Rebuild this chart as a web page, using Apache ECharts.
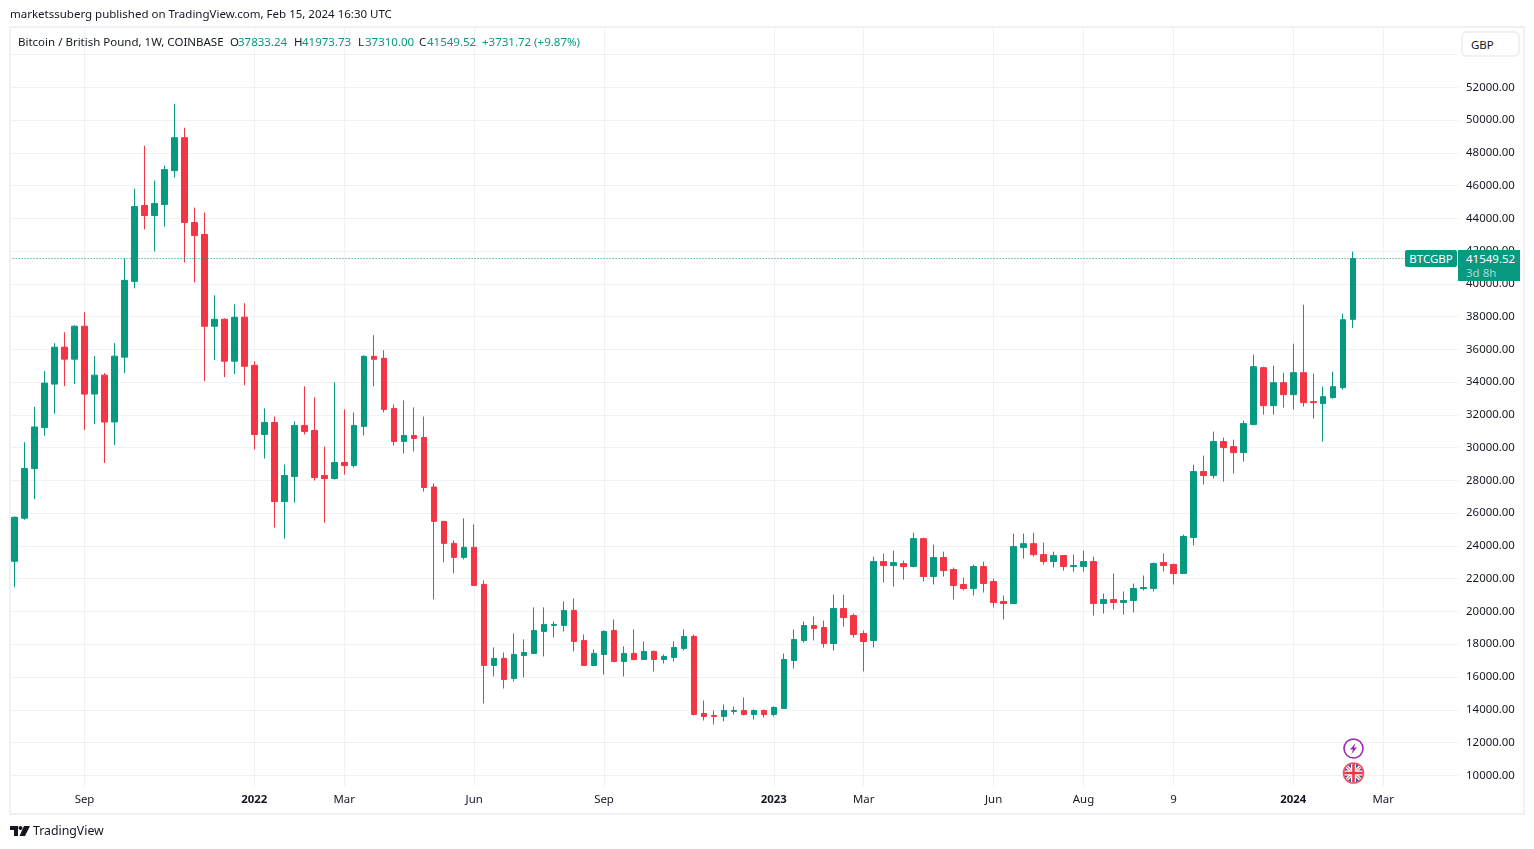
<!DOCTYPE html>
<html>
<head>
<meta charset="utf-8">
<title>BTCGBP</title>
<script src="https://cdn.jsdelivr.net/npm/echarts@6/dist/echarts.min.js"></script>
<style>
  html, body { margin: 0; padding: 0; width: 1534px; height: 849px; background: #fff; overflow: hidden; }
  body { font-family: "Noto Sans", sans-serif; color: #131722; font-size: 11.5px; }
  #chart { position: absolute; left: 0; top: 0; width: 1534px; height: 849px; }
  .abs { position: absolute; white-space: nowrap; line-height: 16px; }
  .frame { position: absolute; left: 9px; top: 26px; width: 1516px; height: 789px; box-sizing: border-box; border: 2px solid #f0f1f6; pointer-events: none; }
  .up { color: #089981; }
  .currency { position: absolute; left: 1461px; top: 31px; width: 59px; height: 26px; box-sizing: border-box; border: 2px solid #f0f1f6; border-radius: 5px; background: #fff; line-height: 23px; text-indent: 8px; }
  .tag { position: absolute; background: #089981; color: #fff; }
  .tag-name { left: 1405px; top: 250px; width: 52px; height: 17px; line-height: 17px; text-align: center; border-radius: 2px; }
  .tag-price { left: 1458px; top: 250px; width: 62px; height: 31px; line-height: 14px; padding: 2px 0 0 8px; box-sizing: border-box; }
  .tag-price span { display: block; color: #a5dbd0; }
  .logo-text { font-size: 12.3px; }
</style>
</head>
<body>
<div id="chart"></div>
<div class="frame"></div>

<div class="abs" style="left:10px;top:6px">marketssuberg published on TradingView.com, Feb 15, 2024 16:30 UTC</div>

<div class="abs" style="left:18px;top:34px">Bitcoin / British Pound, 1W, COINBASE</div>
<div class="abs" style="left:230px;top:34px">O</div><div class="abs up" style="left:238px;top:34px">37833.24</div>
<div class="abs" style="left:294px;top:34px">H</div><div class="abs up" style="left:302px;top:34px">41973.73</div>
<div class="abs" style="left:358px;top:34px">L</div><div class="abs up" style="left:365px;top:34px">37310.00</div>
<div class="abs" style="left:419px;top:34px">C</div><div class="abs up" style="left:427px;top:34px">41549.52</div>
<div class="abs up" style="left:482px;top:34px">+3731.72 (+9.87%)</div>

<div class="currency">GBP</div>
<div class="tag tag-name">BTCGBP</div>
<div class="tag tag-price">41549.52<span>3d 8h</span></div>

<svg class="abs" style="left:1342px;top:737px" width="23" height="48" viewBox="0 0 23 48">
  <circle cx="11.5" cy="11.5" r="9.5" fill="#fff" stroke="#9c27b0" stroke-width="1.6"/>
  <path d="M13.5 6 L8 12.5 H11 L9.5 17 L15 10.5 H12 Z" fill="#9c27b0"/>
  <clipPath id="flagClip"><circle cx="11.5" cy="36" r="9.5"/></clipPath>
  <g clip-path="url(#flagClip)">
    <rect x="1" y="25" width="21" height="22" fill="#2a5caa"/>
    <path d="M1 26 L22 46 M22 26 L1 46" stroke="#fff" stroke-width="3.4"/>
    <path d="M1 26 L22 46 M22 26 L1 46" stroke="#f23645" stroke-width="1"/>
    <path d="M11.5 25 V47 M1 36 H22" stroke="#fff" stroke-width="5"/>
    <path d="M11.5 25 V47 M1 36 H22" stroke="#f23645" stroke-width="2.6"/>
  </g>
  <circle cx="11.5" cy="36" r="10" fill="none" stroke="#f7525f" stroke-width="1.6"/>
</svg>

<svg class="abs" style="left:10px;top:826px" width="20" height="11" viewBox="0 0 20 11">
  <path d="M0 0 H8 V10 H4 V4 H0 Z" fill="#131722"/>
  <circle cx="10.5" cy="2" r="2" fill="#131722"/>
  <path d="M14 0 H20 L15 10 H9.5 Z" fill="#131722"/>
</svg>
<div class="abs logo-text" style="left:33px;top:823px">TradingView</div>

<script>
// 周线 OHLC，从图上读出来的
const opens = [
  23065, 25690, 28725, 31222, 33881, 36135, 35404, 37414, 33272, 34429,
  31567, 35526, 40154, 44782, 44174, 44843, 46914, 48924, 43747, 43016,
  37414, 37840, 35282, 37964, 35028, 30807, 31541, 26709, 28238, 31358,
  31052, 28299, 28116, 29094, 28911, 31297, 35578, 35456, 32397, 30379,
  30746, 30624, 27600, 25501, 24157, 23302, 23913, 21653, 16705, 17133,
  15911, 17316, 17439, 18782, 19150, 19149, 20065, 18232, 16705, 17377,
  18843, 16950, 17439, 17072, 17561, 17072, 17194, 17744, 18477, 13774,
  13652, 13591, 13900, 13957, 13713, 13957, 13713, 14079, 17006, 18226,
  19141, 19019, 18043, 20178, 19751, 18653, 18226, 23044, 22800, 22922,
  22742, 24447, 22133, 23290, 22559, 21645, 21402, 22742, 21828, 20610,
  20488, 23899, 24142, 23472, 23046, 23411, 22742, 22742, 23046, 20488,
  20732, 20549, 20671, 21402, 21405, 22991, 22869, 22320, 24516, 28541,
  28297, 30371, 30066, 29700, 31408, 34884, 32566, 33970, 33237, 34579,
  32811, 32689, 33054, 33664, 37833.24
]
const closes = [
  25751, 28725, 31263, 33942, 36135, 35404, 37414, 33272, 34429, 31567,
  35587, 40215, 44722, 44174, 44904, 46975, 48924, 43747, 42955, 37414,
  37840, 35282, 37962, 34967, 30807, 31541, 26709, 28299, 31358, 30991,
  28177, 28116, 29094, 28911, 31358, 35578, 35395, 32336, 30379, 30746,
  30562, 27565, 25501, 24157, 23302, 23913, 21592, 16705, 17133, 15850,
  17377, 17499, 18843, 19210, 19210, 20065, 18171, 16705, 17439, 18782,
  16950, 17439, 17072, 17561, 17072, 17255, 17805, 18477, 13713, 13590,
  13591, 13957, 13957, 13713, 13957, 13713, 14140, 17067, 18287, 19141,
  18958, 18043, 20178, 19629, 18592, 18165, 23044, 22800, 22983, 22739,
  24447, 22133, 23290, 22498, 21585, 21402, 22742, 21706, 20549, 20488,
  23960, 24142, 23472, 23046, 23411, 22742, 22803, 23046, 20488, 20732,
  20549, 20671, 21402, 21463, 22930, 22808, 22320, 24577, 28541, 28297,
  30371, 30005, 29700, 31469, 34945, 32566, 33970, 33237, 34579, 32750,
  32750, 33116, 33725, 37812, 41549.52
]
const lows = [
  21477, 25600, 26850, 30735, 32075, 33760, 33881, 31080, 31445, 29070,
  30167, 34551, 39728, 43321, 41981, 43504, 46488, 41311, 40093, 34064,
  35343, 34308, 34490, 33805, 29890, 29339, 25118, 24446, 26647, 30807,
  27993, 25424, 28055, 28360, 28788, 30746, 33743, 32153, 30134, 29645,
  29767, 27320, 20737, 23003, 22325, 23180, 21592, 14384, 16034, 15300,
  15728, 15973, 17439, 17255, 18416, 18782, 17561, 16705, 16705, 16156,
  16950, 16034, 17011, 17072, 16339, 16827, 16950, 17622, 13651, 13346,
  13103, 13286, 13713, 13652, 13408, 13530, 13591, 14079, 16518, 18104,
  18226, 17799, 17616, 19080, 18409, 16335, 17799, 21763, 21519, 21946,
  22700, 21828, 21645, 22133, 20732, 21280, 20976, 21158, 20245, 19514,
  20488, 23229, 23351, 22863, 22681, 22498, 22437, 22437, 19758, 19879,
  20123, 19818, 19940, 21280, 21219, 22442, 21650, 22320, 24028, 27749,
  28114, 27931, 28420, 29151, 31408, 32018, 32018, 32445, 32323, 32506,
  31774, 30371, 32994, 33542, 37310
]
const highs = [
  25800, 30330, 32481, 34673, 36378, 37048, 37475, 38266, 35587, 34551,
  36378, 41555, 45818, 48436, 46305, 47218, 50994, 49533, 44661, 44356,
  39301, 37901, 38753, 38820, 35273, 32397, 31908, 28972, 31602, 33743,
  33071, 30073, 33988, 32336, 32153, 35639, 36863, 35946, 32642, 32887,
  32459, 31908, 27822, 25501, 24340, 25684, 25318, 21897, 17805, 17499,
  18660, 18294, 20248, 20248, 19393, 20614, 20798, 18599, 17682, 18843,
  19515, 17866, 18904, 18171, 17622, 17377, 18171, 18904, 18599, 14568,
  13957, 14323, 14201, 14750, 14018, 14018, 14201, 17433, 18897, 19385,
  19690, 19446, 21031, 21031, 19873, 18836, 23349, 23532, 23715, 23105,
  24812, 24508, 24081, 23655, 22681, 22072, 22863, 23046, 22011, 20976,
  24751, 24751, 24812, 24203, 23655, 23411, 23472, 23716, 23351, 21097,
  22315, 21219, 21706, 22194, 22985, 23540, 22930, 24699, 28968, 29517,
  30981, 30615, 30493, 31652, 35677, 34945, 35006, 34579, 36348, 38727,
  34518, 33725, 34640, 38178, 41973.73
]

// x 轴刻度，右边留了 10 根的空白
const weekCount = 145
const xTickIndex = [7, 24, 33, 46, 59, 76, 85, 98, 107, 116, 128, 137]
const xTickLabels = ['Sep', '2022', 'Mar', 'Jun', 'Sep', '2023', 'Mar', 'Jun', 'Aug', '9', '2024', 'Mar']
const yGridValues = [10000, 12000, 14000, 16000, 18000, 20000, 22000, 24000, 26000, 28000, 30000,
  32000, 34000, 36000, 38000, 40000, 42000, 44000, 46000, 48000, 50000, 52000, 54000]
const lastClose = closes[closes.length - 1]

const categories = Array.from({ length: weekCount }, (_, i) => String(i))
const candles = opens.map((o, i) => [o, closes[i], lows[i], highs[i]])

const chart = echarts.init(document.getElementById('chart'))
const option = {
  animation: false,
  backgroundColor: '#fff',
  textStyle: { fontFamily: '"Noto Sans", sans-serif' },
  grid: { left: 9.6, top: 28, width: 1448.5, height: 758, containLabel: false },
  xAxis: {
    type: 'category',
    data: categories,
    axisLine: { show: false },
    axisTick: { show: false },
    splitLine: {
      show: true,
      alignWithLabel: true,
      interval: i => xTickIndex.includes(i),
      lineStyle: { color: '#f0f1f5', width: 1 }
    },
    axisLabel: {
      interval: i => xTickIndex.includes(i),
      formatter: (v, i) => {
        const label = xTickLabels[xTickIndex.indexOf(i)] || ''
        return /^\d{4}$/.test(label) ? '{year|' + label + '}' : label
      },
      color: '#131722',
      fontSize: 11.4,
      margin: 8,
      rich: { year: { fontWeight: 'bold', fontSize: 11.4, color: '#131722' } }
    }
  },
  yAxis: {
    type: 'value',
    position: 'right',
    min: 9345.6,
    max: 55621.6,
    scale: true,
    axisLine: { show: false },
    axisTick: { show: false, customValues: yGridValues },
    splitLine: { show: true, lineStyle: { color: '#f0f1f5', width: 1 } },
    axisLabel: {
      customValues: yGridValues.filter(v => v < 54000),
      formatter: v => v.toFixed(2),
      color: '#131722',
      fontSize: 11.4,
      margin: 8,
      padding: [2, 0, 0, 0],
      showMinLabel: true,
      showMaxLabel: true
    }
  },
  series: [
    {
      name: 'BTCGBP',
      type: 'candlestick',
      data: candles,
      barWidth: 6,
      itemStyle: {
        color: '#089981',
        color0: '#f23645',
        borderColor: '#089981',
        borderColor0: '#f23645',
        borderWidth: 1
      },
      markLine: {
        silent: true,
        symbol: 'none',
        label: { show: false },
        data: [{ yAxis: lastClose }],
        lineStyle: { color: '#089981', type: [1, 2], width: 1 }
      }
    }
  ]
}
chart.setOption(option)
</script>
</body>
</html>
